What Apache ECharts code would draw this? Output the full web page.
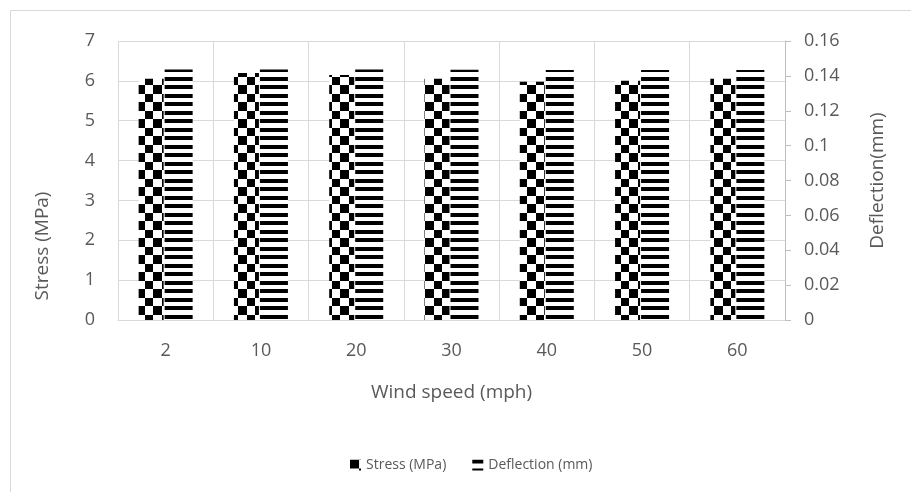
<!DOCTYPE html>
<html>
<head>
<meta charset="utf-8">
<script src="https://cdn.jsdelivr.net/npm/echarts@6/dist/echarts.min.js"></script>
<style>
  html, body { margin: 0; padding: 0; background: #fff; }
  #chart { width: 911px; height: 492px; }
</style>
</head>
<body>
<div id="chart"></div>
<script>
// Wind speed categories and measured responses
const windSpeeds = ['2', '10', '20', '30', '40', '50', '60'];
const stressMPa = [6.05, 6.2, 6.15, 6.05, 5.98, 6.0, 6.05];
const deflectionMm = [0.1437, 0.1437, 0.1436, 0.1435, 0.1433, 0.1433, 0.1433];

const FONT = '"Open Sans", "Noto Sans", sans-serif';
const TEXT = '#595959';
const GRID = '#d9d9d9';

// Checkerboard fill for the stress bars
function checkerPattern() {
  const c = document.createElement('canvas');
  c.width = 17; c.height = 17;
  const g = c.getContext('2d');
  g.fillStyle = '#fff'; g.fillRect(0, 0, 17, 17);
  g.fillStyle = '#000';
  g.fillRect(0, 0, 9, 9);
  g.fillRect(9, 9, 8, 8);
  return c;
}
// Horizontal stripes for the deflection bars
function stripePattern() {
  const c = document.createElement('canvas');
  c.width = 4; c.height = 17;
  const g = c.getContext('2d');
  g.fillStyle = '#fff'; g.fillRect(0, 0, 4, 17);
  g.fillStyle = '#000';
  g.fillRect(0, 0, 4, 4);
  g.fillRect(0, 9, 4, 4);
  return c;
}

const chart = echarts.init(document.getElementById('chart'), null, { renderer: 'canvas' });
chart.setOption({
  backgroundColor: '#fff',
  animation: false,
  textStyle: { fontFamily: FONT, color: TEXT },
  grid: { left: 118, right: 126, top: 41, bottom: 172 },
  graphic: [
    { type: 'rect', shape: { x: 10.5, y: 10.5, width: 940, height: 520 },
      style: { fill: null, stroke: GRID, lineWidth: 1 }, silent: true, z: -10 },
    { type: 'text', x: 43, y: 246, rotation: Math.PI / 2,
      style: { text: 'Stress (MPa)', font: '19px ' + FONT, fill: TEXT, align: 'center', verticalAlign: 'middle' } }
  ],
  legend: {
    bottom: 15, left: 345,
    itemWidth: 11, itemHeight: 11, itemGap: 26,
    icon: 'rect',
    textStyle: { fontFamily: FONT, fontSize: 14, color: TEXT },
    data: ['Stress (MPa)', 'Deflection (mm)']
  },
  xAxis: {
    type: 'category',
    data: windSpeeds,
    name: 'Wind speed (mph)',
    nameLocation: 'middle',
    nameGap: 63,
    nameTextStyle: { fontFamily: FONT, fontSize: 19, color: TEXT },
    axisLine: { lineStyle: { color: GRID } },
    axisTick: { show: false },
    axisLabel: { margin: 22, fontFamily: FONT, fontSize: 18, color: TEXT },
    splitLine: { show: true, lineStyle: { color: GRID } }
  },
  yAxis: [
    {
      type: 'value', min: 0, max: 7, interval: 1,
      axisLine: { show: false }, axisTick: { show: false },
      axisLabel: { margin: 23, fontFamily: FONT, fontSize: 18, color: TEXT },
      splitLine: { lineStyle: { color: GRID } }
    },
    {
      type: 'value', min: 0, max: 0.16, interval: 0.02,
      name: 'Deflection(mm)', nameLocation: 'middle', nameGap: 83, nameRotate: 90,
      nameTextStyle: { fontFamily: FONT, fontSize: 19, color: TEXT },
      axisLine: { show: true, lineStyle: { color: '#bfbfbf' } },
      axisTick: { show: true, length: 6, lineStyle: { color: '#bfbfbf' } },
      axisLabel: { margin: 19, fontFamily: FONT, fontSize: 18, color: TEXT,
        formatter: v => String(+v.toFixed(2)) },
      splitLine: { show: false }
    }
  ],
  series: [
    {
      name: 'Stress (MPa)', type: 'bar', yAxisIndex: 0,
      data: stressMPa, barWidth: 25, barGap: '4%',
      itemStyle: { color: { image: checkerPattern(), repeat: 'repeat' } }
    },
    {
      name: 'Deflection (mm)', type: 'bar', yAxisIndex: 1,
      data: deflectionMm, barWidth: 28,
      itemStyle: { color: { image: stripePattern(), repeat: 'repeat' } }
    }
  ]
});
</script>
</body>
</html>
